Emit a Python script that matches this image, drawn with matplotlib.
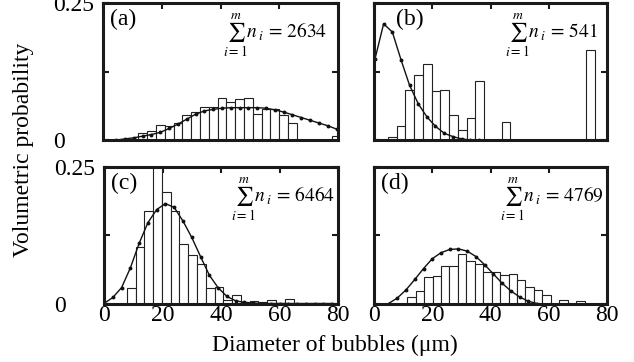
import matplotlib
matplotlib.use('Agg')
import matplotlib.pyplot as plt

plt.rcParams['font.family'] = ['Liberation Serif', 'DejaVu Serif']
plt.rcParams['mathtext.fontset'] = 'stix'

# bin left edges (um) and volumetric probability for each panel
a_edges = [12, 15, 18, 21, 24, 27, 30, 33, 36, 39, 42, 45, 48, 51, 54, 57, 60, 63, 78]
a_vals = [0.013, 0.017, 0.027, 0.025, 0.031, 0.046, 0.052, 0.061, 0.061, 0.076,
          0.069, 0.074, 0.076, 0.048, 0.057, 0.057, 0.046, 0.031, 0.007]
b_edges = [4.8, 7.8, 10.8, 13.8, 16.8, 19.8, 22.8, 25.8, 28.8, 31.8, 34.8, 43.8, 72.8]
b_vals = [0.005, 0.025, 0.092, 0.119, 0.138, 0.089, 0.091, 0.045, 0.018, 0.040,
          0.108, 0.032, 0.164]
c_edges = [7.8, 10.8, 13.8, 16.8, 19.8, 22.8, 25.8, 28.8, 31.8, 34.8, 37.8, 40.8,
           43.8, 46.8, 49.8, 52.8, 55.8, 58.8, 61.8]
c_vals = [0.029, 0.103, 0.169, 0.30, 0.204, 0.169, 0.109, 0.089, 0.072, 0.029,
          0.030, 0.006, 0.015, 0.002, 0.004, 0.002, 0.007, 0.001, 0.009]
d_edges = [11.4, 14.3, 17.2, 20.1, 23.0, 25.9, 28.8, 31.7, 34.6, 37.5, 40.4, 43.3,
           46.2, 49.1, 52.0, 54.9, 57.8, 63.6, 69.4]
d_vals = [0.011, 0.022, 0.048, 0.051, 0.068, 0.068, 0.091, 0.077, 0.072, 0.058,
          0.058, 0.052, 0.054, 0.043, 0.030, 0.025, 0.016, 0.006, 0.004]

# fitted distribution curves
a_fit_x = [4.5, 7.5, 10.5, 13.5, 16.5, 19.5, 22.5, 25.5, 28.5, 31.5, 34.5, 37.5, 40.5,
           43.5, 46.5, 49.5, 52.5, 55.5, 58.5, 61.5, 64.5, 67.5, 70.5, 73.5, 76.5, 79.5]
a_fit_y = [0.000, 0.002, 0.004, 0.007, 0.010, 0.014, 0.021, 0.029, 0.038, 0.047, 0.053,
           0.056, 0.058, 0.059, 0.059, 0.059, 0.059, 0.058, 0.055, 0.051, 0.046, 0.041,
           0.036, 0.031, 0.026, 0.020]
b_fit_x = [0.3, 3.3, 6.3, 9.3, 12.2, 15.2, 18.2, 21.1, 24.2, 27.2, 30.1, 33.1, 36.0]
b_fit_y = [0.147, 0.212, 0.197, 0.146, 0.100, 0.066, 0.042, 0.025, 0.012, 0.006,
           0.002, 0.000, 0.000]
c_fit_x = [0, 3, 6, 9, 12, 15, 18, 21, 24, 27, 30, 33, 36, 39, 42, 45, 48, 51, 54,
           57, 60, 63, 66, 69, 72, 75, 78]
c_fit_y = [0.000, 0.011, 0.029, 0.065, 0.110, 0.148, 0.172, 0.183, 0.176, 0.151,
           0.121, 0.086, 0.052, 0.029, 0.013, 0.005, 0.002, 0.001, 0.0, 0.0, 0.0,
           0.0, 0.0, 0.0, 0.0, 0.0, 0.0]
d_fit_x = [5, 8, 11, 14, 17, 20, 23, 26, 29, 32, 35, 38, 41, 44, 47, 50, 53, 56]
d_fit_y = [0.000, 0.010, 0.025, 0.044, 0.064, 0.082, 0.093, 0.099, 0.100, 0.096,
           0.086, 0.071, 0.054, 0.037, 0.023, 0.012, 0.004, 0.000]

labels = ['(a)', '(b)', '(c)', '(d)']
totals = [2634, 541, 6464, 4769]

fig = plt.figure(figsize=(6.34, 3.62), dpi=100)
W, H = 634.0, 362.0
boxes = [
    [103 / W, (H - 140) / H, 235 / W, 137 / H],
    [374 / W, (H - 140) / H, 233 / W, 137 / H],
    [104 / W, (H - 303.5) / H, 234 / W, 136.5 / H],
    [374 / W, (H - 303.5) / H, 233 / W, 136.5 / H],
]
panels = [(a_edges, a_vals, a_fit_x, a_fit_y, 3.0),
          (b_edges, b_vals, b_fit_x, b_fit_y, 3.0),
          (c_edges, c_vals, c_fit_x, c_fit_y, 3.0),
          (d_edges, d_vals, d_fit_x, d_fit_y, 2.9)]
label_x = [0.03, 0.095, 0.03, 0.03]
sum_x = [0.955, 0.96, 0.99, 0.985]

for i, (edges, vals, fx, fy, w) in enumerate(panels):
    ax = fig.add_axes(boxes[i])
    ax.bar(edges, vals, width=w, align='edge', color='white', edgecolor='#222222',
           linewidth=0.8, zorder=2)
    ax.plot(fx, fy, color='#111111', linewidth=1.0, marker='o', markersize=1.8,
            zorder=3, clip_on=True)
    ax.set_xlim(0, 80)
    ax.set_ylim(0, 0.25)
    ax.set_xticks([0, 20, 40, 60, 80])
    ax.set_yticks([0, 0.125, 0.25])
    for sp in ax.spines.values():
        sp.set_linewidth(2.2)
        sp.set_color('#1a1a1a')
        sp.set_zorder(5)
    ax.tick_params(axis='both', direction='in', length=4.5, width=1.5, color='#1a1a1a',
                   labelsize=17)
    ax.tick_params(axis='x', top=True, bottom=False, labeltop=False,
                   labelbottom=(i >= 2), pad=1)
    ax.tick_params(axis='y', left=True, right=True, labelleft=(i % 2 == 0), pad=36)
    if i % 2 == 0:
        ax.set_yticklabels(['0', '', '0.25'])
        for t in ax.get_yticklabels():
            t.set_horizontalalignment('left')
    ax.text(label_x[i], 0.96, labels[i], transform=ax.transAxes, fontsize=17,
            ha='left', va='top', zorder=6)
    ax.text(sum_x[i], 0.763, r'$\sum_{i=1}^{m} n_{\,i}\,=\,%d$' % totals[i],
            transform=ax.transAxes, fontsize=14, ha='right', va='center', zorder=6)

fig.text(24 / W, (H - 150) / H, 'Volumetric probability', rotation=90,
         ha='center', va='center', fontsize=17)
fig.text(335 / W, (H - 345) / H, 'Diameter of bubbles (\u03bcm)',
         ha='center', va='center', fontsize=17)

fig.savefig('out.png', dpi=100)
